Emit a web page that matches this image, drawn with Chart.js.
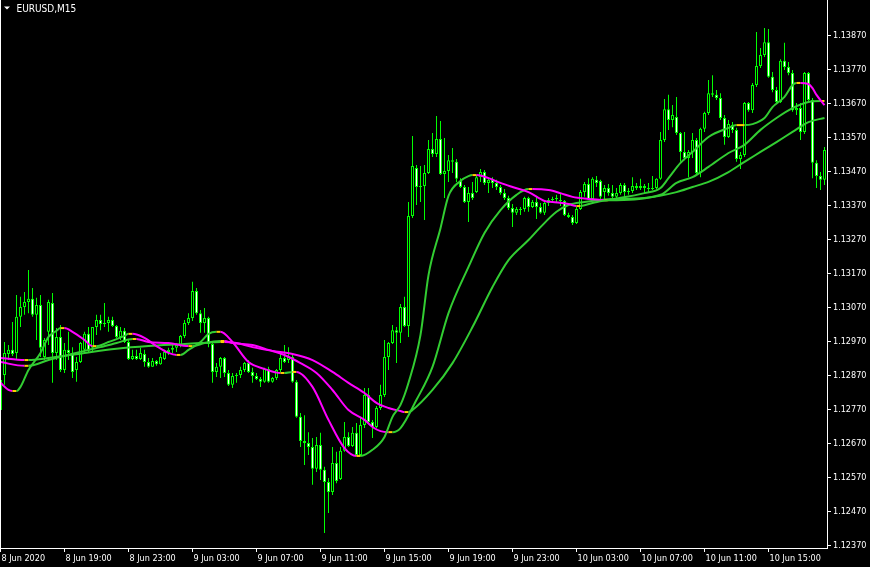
<!DOCTYPE html>
<html>
<head>
<meta charset="utf-8">
<title>EURUSD,M15</title>
<script src="https://cdn.jsdelivr.net/npm/chart.js@4.4.1/dist/chart.umd.min.js"></script>
<style>
  html, body { margin: 0; padding: 0; background: #000; }
  canvas { display: block; }
</style>
</head>
<body>
<canvas id="chart" width="870" height="567"></canvas>
<script>
// --- EURUSD M15 candles, bar 0 = 8 Jun 15:00 ---
const openPrices = [
  1.12769,1.12872,1.12934,1.12946,1.12937,1.13043,1.13072,1.13087,1.13096,1.13049,
  1.13078,1.12925,1.12999,1.13084,1.12937,1.12984,1.12887,1.12946,1.12937,1.12887,
  1.12910,1.12946,1.12993,1.12952,1.13013,1.13034,1.13022,1.13025,1.13034,1.13016,
  1.12984,1.13002,1.12969,1.12919,1.12928,1.12919,1.12934,1.12910,1.12896,1.12913,
  1.12904,1.12919,1.12940,1.12946,1.12952,1.12957,1.12987,1.13025,1.13040,1.13119,
  1.13054,1.13025,1.13040,1.12963,1.12881,1.12896,1.12922,1.12878,1.12843,1.12869,
  1.12872,1.12887,1.12907,1.12881,1.12869,1.12860,1.12852,1.12890,1.12852,1.12863,
  1.12887,1.12922,1.12916,1.12925,1.12852,1.12749,1.12678,1.12672,1.12660,1.12596,
  1.12666,1.12593,1.12557,1.12528,1.12613,1.12566,1.12649,1.12690,1.12663,1.12702,
  1.12637,1.12725,1.12813,1.12734,1.12719,1.12775,1.12813,1.12925,1.12966,1.13004,
  1.12996,1.13072,1.13016,1.13340,1.13481,1.13425,1.13428,1.13466,1.13537,1.13522,
  1.13566,1.13463,1.13472,1.13504,1.13499,1.13443,1.13425,1.13381,1.13407,1.13410,
  1.13454,1.13469,1.13437,1.13446,1.13437,1.13425,1.13407,1.13393,1.13363,1.13349,
  1.13360,1.13360,1.13393,1.13366,1.13381,1.13366,1.13349,1.13378,1.13387,1.13390,
  1.13387,1.13384,1.13343,1.13337,1.13319,1.13360,1.13410,1.13434,1.13390,1.13446,
  1.13443,1.13410,1.13422,1.13407,1.13396,1.13407,1.13431,1.13410,1.13413,1.13428,
  1.13422,1.13428,1.13422,1.13419,1.13422,1.13449,1.13563,1.13654,1.13622,1.13631,
  1.13584,1.13528,1.13510,1.13528,1.13563,1.13466,1.13596,1.13643,1.13701,1.13696,
  1.13687,1.13628,1.13572,1.13607,1.13593,1.13507,1.13519,1.13672,1.13651,1.13725,
  1.13781,1.13813,1.13851,1.13749,1.13710,1.13675,1.13796,1.13778,1.13760,1.13651,
  1.13657,1.13587,1.13760,1.13681,1.13496,1.13457,1.13446
];
const highPrices = [
  1.12872,1.12969,1.12960,1.13028,1.13107,1.13102,1.13116,1.13181,1.13128,1.13099,
  1.13107,1.12981,1.13093,1.13113,1.13010,1.13019,1.12966,1.12999,1.12954,1.12925,
  1.12969,1.12999,1.13013,1.13013,1.13049,1.13049,1.13084,1.13043,1.13043,1.13019,
  1.13013,1.13010,1.12975,1.12946,1.12946,1.12952,1.12946,1.12922,1.12922,1.12916,
  1.12937,1.12946,1.12952,1.12960,1.12966,1.12990,1.13034,1.13054,1.13146,1.13128,
  1.13063,1.13069,1.13043,1.12969,1.12907,1.12925,1.12925,1.12887,1.12878,1.12878,
  1.12896,1.12910,1.12916,1.12893,1.12878,1.12866,1.12893,1.12896,1.12866,1.12890,
  1.12937,1.12960,1.12954,1.12937,1.12857,1.12760,1.12754,1.12704,1.12687,1.12690,
  1.12702,1.12602,1.12569,1.12660,1.12646,1.12660,1.12734,1.12704,1.12719,1.12731,
  1.12749,1.12834,1.12834,1.12740,1.12781,1.12843,1.12975,1.12969,1.13019,1.13013,
  1.13081,1.13102,1.13381,1.13575,1.13490,1.13487,1.13490,1.13563,1.13584,1.13634,
  1.13619,1.13569,1.13519,1.13540,1.13507,1.13451,1.13431,1.13425,1.13440,1.13460,
  1.13478,1.13475,1.13454,1.13454,1.13446,1.13431,1.13419,1.13399,1.13375,1.13366,
  1.13366,1.13396,1.13396,1.13387,1.13396,1.13378,1.13381,1.13393,1.13396,1.13402,
  1.13407,1.13387,1.13349,1.13343,1.13366,1.13416,1.13440,1.13451,1.13454,1.13457,
  1.13446,1.13431,1.13434,1.13431,1.13422,1.13437,1.13437,1.13422,1.13454,1.13437,
  1.13449,1.13434,1.13437,1.13457,1.13451,1.13587,1.13684,1.13696,1.13666,1.13690,
  1.13587,1.13587,1.13534,1.13584,1.13569,1.13599,1.13646,1.13740,1.13754,1.13710,
  1.13701,1.13637,1.13622,1.13616,1.13599,1.13528,1.13675,1.13675,1.13731,1.13881,
  1.13834,1.13893,1.13890,1.13763,1.13719,1.13801,1.13849,1.13793,1.13769,1.13672,
  1.13672,1.13763,1.13763,1.13687,1.13504,1.13469,1.13543
];
const lowPrices = [
  1.12754,1.12843,1.12916,1.12928,1.12916,1.13013,1.13049,1.13054,1.13043,1.12975,
  1.12925,1.12916,1.12960,1.12849,1.12916,1.12881,1.12878,1.12916,1.12863,1.12852,
  1.12907,1.12940,1.12940,1.12940,1.12990,1.13004,1.13013,1.12999,1.13013,1.12981,
  1.12975,1.12966,1.12916,1.12916,1.12916,1.12916,1.12896,1.12893,1.12896,1.12899,
  1.12902,1.12916,1.12931,1.12937,1.12940,1.12954,1.12981,1.13019,1.13031,1.13049,
  1.12996,1.12996,1.12954,1.12849,1.12866,1.12863,1.12866,1.12840,1.12834,1.12849,
  1.12863,1.12881,1.12878,1.12849,1.12857,1.12837,1.12849,1.12849,1.12849,1.12857,
  1.12881,1.12907,1.12907,1.12849,1.12746,1.12660,1.12607,1.12637,1.12549,1.12587,
  1.12563,1.12407,1.12466,1.12519,1.12554,1.12563,1.12646,1.12660,1.12660,1.12634,
  1.12634,1.12716,1.12731,1.12687,1.12716,1.12769,1.12807,1.12887,1.12963,1.12907,
  1.12966,1.13013,1.12984,1.13334,1.13372,1.13381,1.13328,1.13463,1.13513,1.13513,
  1.13460,1.13393,1.13440,1.13466,1.13440,1.13422,1.13378,1.13322,1.13387,1.13407,
  1.13440,1.13431,1.13407,1.13422,1.13416,1.13402,1.13387,1.13357,1.13307,1.13343,
  1.13343,1.13352,1.13352,1.13363,1.13331,1.13346,1.13343,1.13369,1.13378,1.13381,
  1.13369,1.13340,1.13334,1.13313,1.13316,1.13357,1.13396,1.13387,1.13387,1.13425,
  1.13387,1.13387,1.13399,1.13387,1.13387,1.13402,1.13396,1.13402,1.13407,1.13416,
  1.13416,1.13407,1.13410,1.13416,1.13419,1.13446,1.13557,1.13593,1.13601,1.13578,
  1.13499,1.13504,1.13454,1.13510,1.13460,1.13454,1.13587,1.13637,1.13690,1.13681,
  1.13622,1.13549,1.13569,1.13584,1.13499,1.13478,1.13513,1.13646,1.13643,1.13719,
  1.13775,1.13807,1.13746,1.13704,1.13672,1.13672,1.13769,1.13754,1.13646,1.13637,
  1.13563,1.13581,1.13675,1.13451,1.13422,1.13416,1.13431
];
const closePrices = [
  1.12857,1.12937,1.12946,1.12934,1.13043,1.13072,1.13087,1.13096,1.13049,1.13078,
  1.12952,1.12975,1.13087,1.12937,1.12984,1.12887,1.12946,1.12937,1.12881,1.12910,
  1.12966,1.12993,1.12943,1.13013,1.13034,1.13022,1.13025,1.13034,1.13016,1.12984,
  1.13002,1.12969,1.12919,1.12928,1.12919,1.12937,1.12910,1.12896,1.12913,1.12904,
  1.12925,1.12940,1.12946,1.12952,1.12960,1.12987,1.13025,1.13040,1.13119,1.13054,
  1.13025,1.13040,1.12963,1.12881,1.12896,1.12922,1.12878,1.12843,1.12869,1.12872,
  1.12887,1.12907,1.12881,1.12869,1.12860,1.12852,1.12890,1.12852,1.12863,1.12887,
  1.12922,1.12910,1.12928,1.12852,1.12749,1.12678,1.12672,1.12660,1.12596,1.12666,
  1.12593,1.12557,1.12528,1.12613,1.12560,1.12649,1.12690,1.12663,1.12702,1.12637,
  1.12725,1.12813,1.12734,1.12719,1.12775,1.12813,1.12925,1.12966,1.13004,1.12996,
  1.13072,1.13016,1.13340,1.13487,1.13425,1.13428,1.13466,1.13537,1.13522,1.13566,
  1.13463,1.13472,1.13504,1.13499,1.13449,1.13425,1.13381,1.13407,1.13393,1.13454,
  1.13469,1.13437,1.13446,1.13437,1.13425,1.13407,1.13393,1.13363,1.13349,1.13360,
  1.13357,1.13393,1.13366,1.13381,1.13366,1.13349,1.13378,1.13387,1.13390,1.13393,
  1.13384,1.13343,1.13337,1.13319,1.13360,1.13410,1.13434,1.13390,1.13449,1.13437,
  1.13396,1.13422,1.13407,1.13396,1.13407,1.13431,1.13410,1.13413,1.13428,1.13422,
  1.13428,1.13422,1.13419,1.13422,1.13449,1.13563,1.13654,1.13622,1.13637,1.13584,
  1.13528,1.13510,1.13528,1.13563,1.13466,1.13596,1.13643,1.13701,1.13696,1.13687,
  1.13628,1.13572,1.13610,1.13593,1.13507,1.13519,1.13672,1.13651,1.13725,1.13781,
  1.13813,1.13851,1.13749,1.13710,1.13675,1.13796,1.13778,1.13760,1.13651,1.13657,
  1.13587,1.13760,1.13681,1.13496,1.13457,1.13446,1.13534
];

// --- Moving averages at bar indices ---
const fastIdx = [0,2,3,4,5,7,10,12,14,15,16,18,21,23,24,27,31,32,33,36,39,42,44,45,47,50,52,54,55,58,
  62,66,70,71,73,74,78,82,86,89,90,93,96,98,100,102,105,107,110,112,115,117,118,119,122,125,128,132,136,138,
  142,144,145,148,152,161,165,167,170,173,177,182,184,186,188,191,193,196,198,199,200,202,203,204,206];
const fastVal = [1.12849,1.12828,1.12825,1.12825,1.12837,1.12887,1.12937,1.12984,1.13002,1.13010,1.13010,1.12999,1.12975,1.12957,1.12957,
  1.12969,1.12987,1.12993,1.12993,1.12981,1.12957,1.12937,1.12931,1.12931,1.12946,1.12969,1.12993,1.12999,1.12999,1.12969,
  1.12910,1.12890,1.12878,1.12878,1.12881,1.12881,1.12837,1.12740,1.12657,1.12634,1.12634,1.12652,1.12690,1.12749,1.12784,
  1.12849,1.12990,1.13166,1.13304,1.13399,1.13443,1.13457,1.13460,1.13460,1.13451,1.13437,1.13425,1.13410,1.13384,1.13381,
  1.13375,1.13369,1.13369,1.13378,1.13387,1.13407,1.13422,1.13451,1.13496,1.13528,1.13572,1.13599,1.13607,1.13607,1.13610,
  1.13628,1.13660,1.13690,1.13725,1.13731,1.13731,1.13728,1.13716,1.13696,1.13666];

const midIdx = [0,6,7,12,17,21,25,29,33,34,37,42,47,48,51,55,56,58,63,67,71,75,79,83,87,91,93,95,97,98,
  100,104,108,112,117,121,125,129,132,133,137,140,143,147,150,151,152,165,169,173,177,182,186,190,194,198,202,205,206];
const midVal = [1.12910,1.12899,1.12899,1.12916,1.12931,1.12943,1.12954,1.12966,1.12978,1.12978,1.12969,1.12966,1.12957,1.12957,1.12966,
  1.12972,1.12972,1.12966,1.12960,1.12946,1.12931,1.12907,1.12878,1.12828,1.12769,1.12740,1.12719,1.12707,1.12704,1.12704,
  1.12716,1.12799,1.12896,1.13054,1.13190,1.13290,1.13357,1.13402,1.13419,1.13419,1.13416,1.13407,1.13396,1.13390,1.13387,
  1.13386,1.13386,1.13402,1.13437,1.13454,1.13484,1.13525,1.13549,1.13593,1.13628,1.13657,1.13675,1.13678,1.13678];

const slowIdx = [0,6,7,12,21,29,37,46,50,55,56,59,63,68,73,78,83,87,91,94,97,100,101,102,103,108,113,118,123,127,
  132,135,139,142,146,150,152,161,169,173,177,182,186,190,194,198,202,206];
const slowVal = [1.12922,1.12916,1.12916,1.12922,1.12937,1.12949,1.12957,1.12963,1.12966,1.12969,1.12969,1.12966,1.12954,1.12943,1.12934,
  1.12916,1.12881,1.12849,1.12819,1.12790,1.12775,1.12766,1.12763,1.12763,1.12769,1.12828,1.12907,1.13013,1.13131,1.13210,
  1.13269,1.13307,1.13352,1.13372,1.13381,1.13387,1.13389,1.13393,1.13410,1.13425,1.13440,1.13469,1.13499,1.13528,1.13557,
  1.13587,1.13616,1.13628];

// --- Axis labels ---
const xTickIdx = [0,16,32,48,64,80,96,112,128,144,160,176,192];
const xTickLabels = ["8 Jun 2020","8 Jun 19:00","8 Jun 23:00","9 Jun 03:00","9 Jun 07:00","9 Jun 11:00",
  "9 Jun 15:00","9 Jun 19:00","9 Jun 23:00","10 Jun 03:00","10 Jun 07:00","10 Jun 11:00","10 Jun 15:00"];
const yTickValues = [1.12370,1.12470,1.12570,1.12670,1.12770,1.12870,1.12970,1.13070,
  1.13170,1.13270,1.13370,1.13470,1.13570,1.13670,1.13770,1.13870];

const LIME = '#00FF00';
const MA_UP = '#32CD32';
const MA_DOWN = '#FF00FF';
const MA_TURN = '#FFCC00';
const FONT = "'DejaVu Sans Condensed', 'Liberation Sans', sans-serif";

const bars = openPrices.map((_, i) => i);
const bodies = bars.map(i => ({ x: i, y: [openPrices[i], closePrices[i]] }));
const wicks = bars.map(i => ({ x: i, y: [lowPrices[i], highPrices[i]] }));
const bodyFill = bars.map(i => closePrices[i] >= openPrices[i] ? '#000000' : '#FFFFFF');

function maLine(idx, vals) {
    return {
        type: 'line',
        data: idx.map((x, k) => ({ x: x, y: vals[k] })),
        borderWidth: 2,
        borderColor: MA_UP,
        pointRadius: 0,
        cubicInterpolationMode: 'monotone',
        segment: {
            // rising = green, falling = magenta, flat turn = yellow
            borderColor: ctx => {
                const a = ctx.p0.parsed.y, b = ctx.p1.parsed.y;
                if (b > a) return MA_UP;
                if (b < a) return MA_DOWN;
                return MA_TURN;
            }
        }
    };
}

// left frame line, symbol title
const terminalFrame = {
    id: 'terminalFrame',
    beforeDraw(chart) {
        const c = chart.ctx;
        c.save();
        c.fillStyle = '#000';
        c.fillRect(0, 0, chart.width, chart.height);
        c.restore();
    },
    afterDraw(chart) {
        const c = chart.ctx;
        const area = chart.chartArea;
        c.save();
        c.strokeStyle = '#FFFFFF';
        c.lineWidth = 1;
        c.beginPath();
        c.moveTo(0.5, area.top);
        c.lineTo(0.5, area.bottom);
        c.stroke();
        c.fillStyle = '#FFFFFF';
        c.beginPath();
        c.moveTo(4, 6.5);
        c.lineTo(10, 6.5);
        c.lineTo(7, 9.5);
        c.closePath();
        c.fill();
        c.font = "10px " + FONT;
        c.textBaseline = 'alphabetic';
        c.fillText('EURUSD,M15', 16.5, 11.5);
        c.restore();
    }
};

new Chart(document.getElementById('chart'), {
    type: 'bar',
    data: {
        datasets: [
            maLine(fastIdx, fastVal),
            maLine(midIdx, midVal),
            maLine(slowIdx, slowVal),
            {
                type: 'bar',
                data: bodies,
                backgroundColor: bodyFill,
                borderColor: LIME,
                borderWidth: 1,
                borderSkipped: false,
                barThickness: 3,
                grouped: false,
                inflateAmount: 0,
                minBarLength: 1
            },
            {
                type: 'bar',
                data: wicks,
                backgroundColor: LIME,
                borderWidth: 0,
                barThickness: 1,
                grouped: false,
                inflateAmount: 0
            }
        ]
    },
    options: {
        responsive: false,
        animation: false,
        devicePixelRatio: 1,
        events: [],
        layout: { padding: 0, autoPadding: false },
        plugins: { legend: { display: false }, tooltip: { enabled: false } },
        scales: {
            x: {
                type: 'linear',
                min: -0.125,
                max: 206.625,
                offset: false,
                grid: { display: true, drawOnChartArea: false, drawTicks: true, tickLength: 4, tickColor: '#FFFFFF', offset: false },
                border: { display: true, color: '#FFFFFF', width: 1 },
                ticks: {
                    color: '#FFFFFF',
                    font: { family: FONT, size: 9 },
                    align: 'start',
                    labelOffset: 1,
                    padding: 1,
                    maxRotation: 0,
                    autoSkip: false,
                    callback: (v, i) => xTickLabels[i]
                },
                afterBuildTicks: s => { s.ticks = xTickIdx.map(v => ({ value: v })); },
                afterFit: s => { s.height = 19; s.paddingLeft = 0; s.paddingRight = 0; }
            },
            y: {
                type: 'linear',
                position: 'right',
                min: 1.123632,
                max: 1.13975,
                beginAtZero: false,
                grid: { display: true, drawOnChartArea: false, drawTicks: true, tickLength: 4, tickColor: '#FFFFFF' },
                border: { display: true, color: '#FFFFFF', width: 1 },
                ticks: {
                    color: '#FFFFFF',
                    font: { family: FONT, size: 9 },
                    padding: 2,
                    autoSkip: false,
                    callback: v => v.toFixed(5)
                },
                afterBuildTicks: s => { s.ticks = yTickValues.map(v => ({ value: v })); },
                afterFit: s => { s.width = 43; s.paddingTop = 0; s.paddingBottom = 0; }
            }
        }
    },
    plugins: [terminalFrame]
});
</script>
</body>
</html>
